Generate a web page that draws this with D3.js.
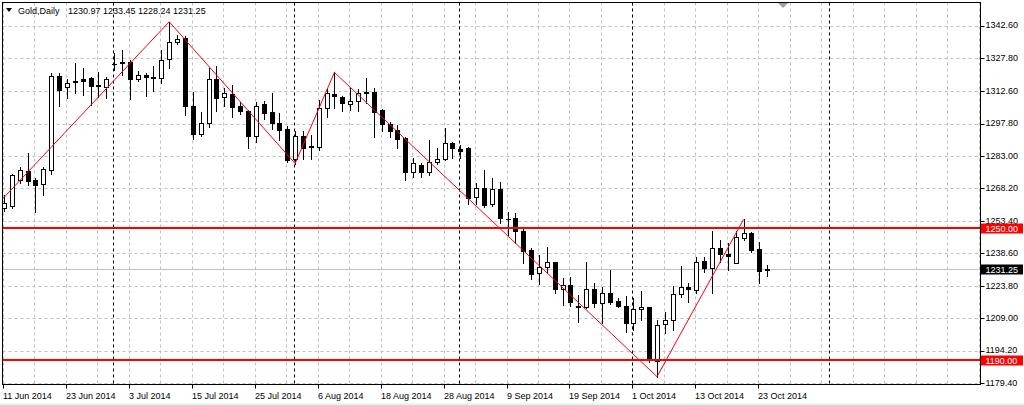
<!DOCTYPE html>
<html><head><meta charset="utf-8">
<script src="https://cdn.jsdelivr.net/npm/d3@7"></script>
<style>html,body{margin:0;padding:0;background:#fff;}svg{display:block;}</style>
</head><body>
<svg id="chart" width="1024" height="405"></svg>
<script>
// ---- DATA ----
const symbolTitle = "Gold,Daily";
const lastQuote = "1230.97 1233.45 1228.24 1231.25";
const opens = [1259.5,1260.2,1272.1,1276.3,1272.1,1270.1,1276.6,1319.5,1314.4,1317.3,1318.0,1318.5,1315.4,1314.7,1325.2,1325.4,1325.9,1318.0,1320.1,1319.2,1318.5,1327.2,1334.9,1337.0,1306.0,1292.9,1298.0,1318.2,1309.8,1311.3,1305.9,1303.7,1292.3,1306.6,1303.0,1298.0,1295.4,1281.5,1292.2,1287.6,1287.3,1305.1,1311.3,1310.1,1306.6,1308.1,1312.4,1312.4,1304.0,1297.5,1294.9,1291.1,1275.6,1278.9,1275.6,1280.4,1281.7,1288.8,1286.1,1286.5,1264.2,1268.3,1261.0,1267.8,1254.4,1254.6,1248.9,1240.1,1229.5,1232.2,1234.5,1222.2,1224.1,1214.7,1214.0,1222.2,1215.8,1220.3,1217.0,1214.7,1206.9,1213.0,1214.0,1189.6,1206.3,1208.2,1220.0,1223.1,1221.9,1235.1,1231.8,1241.2,1238.3,1234.3,1245.5,1247.7,1240.4,1230.97];
const highs = [1265.0,1274.8,1278.1,1284.4,1273.0,1278.0,1320.9,1320.8,1318.0,1325.3,1323.2,1319.1,1321.2,1319.2,1329.9,1331.4,1326.9,1321.8,1320.8,1324.2,1331.4,1344.3,1338.3,1337.8,1312.4,1303.0,1323.3,1324.1,1314.2,1315.4,1307.5,1304.0,1307.5,1308.3,1311.6,1302.8,1296.9,1294.6,1294.6,1292.6,1308.6,1313.6,1321.2,1310.6,1314.2,1313.5,1318.5,1313.9,1304.3,1298.7,1297.2,1291.6,1282.0,1279.7,1290.3,1286.5,1295.7,1289.6,1288.0,1287.0,1270.6,1276.6,1272.8,1271.3,1257.6,1256.9,1249.6,1240.9,1237.8,1241.3,1234.8,1227.2,1227.9,1219.6,1234.8,1224.9,1223.4,1231.0,1218.1,1219.1,1218.1,1221.4,1214.2,1208.2,1211.9,1223.7,1232.8,1224.9,1236.8,1237.1,1248.9,1244.7,1243.2,1248.9,1254.1,1248.5,1243.9,1233.45];
const lows = [1258.0,1259.3,1270.6,1270.0,1257.6,1265.2,1274.7,1306.0,1309.4,1311.8,1310.9,1306.3,1310.1,1309.6,1322.3,1320.0,1308.9,1317.4,1310.4,1312.7,1316.5,1323.3,1334.0,1301.7,1290.8,1292.3,1296.4,1303.6,1306.0,1300.9,1302.2,1286.5,1289.6,1299.9,1295.2,1290.3,1280.2,1279.6,1281.7,1281.7,1285.8,1300.9,1304.8,1303.6,1304.0,1303.6,1307.1,1291.6,1294.4,1291.8,1286.8,1272.1,1273.3,1273.3,1274.4,1279.2,1281.2,1282.2,1282.0,1261.1,1261.1,1259.9,1260.3,1252.3,1247.0,1243.2,1234.0,1226.7,1224.6,1230.2,1220.3,1215.0,1214.7,1207.4,1213.5,1214.2,1206.7,1215.3,1214.2,1202.8,1203.6,1208.2,1189.1,1182.3,1202.4,1203.6,1218.8,1216.5,1220.3,1230.2,1220.6,1234.8,1231.0,1234.0,1244.7,1239.3,1225.2,1228.24];
const closes = [1261.5,1274.4,1276.6,1271.8,1269.8,1277.0,1319.5,1313.2,1316.2,1316.6,1317.3,1315.1,1314.8,1318.2,1324.8,1325.8,1318.0,1319.9,1319.1,1318.6,1326.9,1334.9,1336.4,1306.0,1292.9,1298.0,1318.2,1309.6,1311.6,1305.5,1303.7,1292.3,1306.0,1302.8,1298.0,1294.9,1281.2,1292.2,1286.5,1287.0,1305.1,1311.6,1310.6,1307.4,1308.3,1311.9,1311.6,1303.2,1297.5,1294.6,1290.8,1275.9,1280.0,1275.9,1280.4,1281.7,1288.8,1286.5,1285.4,1264.0,1268.3,1260.7,1267.8,1254.6,1254.2,1248.9,1239.8,1229.2,1232.2,1234.8,1222.2,1224.1,1216.5,1214.1,1222.3,1215.8,1220.3,1216.2,1214.6,1206.9,1213.0,1213.9,1189.9,1205.9,1208.2,1220.0,1223.1,1222.3,1234.8,1231.8,1241.2,1238.1,1237.5,1245.9,1247.7,1240.1,1230.7,1231.25];

const zigzagIdx = [-2, 21, 37, 42, 83, 94];
const zigzagVal = [1256.5, 1344.3, 1279.6, 1321.2, 1182.3, 1254.1];

const levelLines = [1250.00, 1190.00];
const bidPrice = 1231.25;

const yTicks = [1179.40,1194.20,1209.00,1223.80,1238.60,1253.40,1268.20,1283.00,1297.80,1312.60,1327.80,1342.60];
const dateIdx = [0,8,16,24,32,40,48,56,64,72,80,88,96];
const dateLabels = ["11 Jun 2014","23 Jun 2014","3 Jul 2014","15 Jul 2014","25 Jul 2014","6 Aug 2014","18 Aug 2014","28 Aug 2014","9 Sep 2014","19 Sep 2014","1 Oct 2014","13 Oct 2014","23 Oct 2014"];
const separatorIdx = [14, 37, 58, 80, 105];

// ---- LAYOUT ----
const svg = d3.select("#chart");
const L = 2.5, T = 2.5, R = 980.5, B = 384.5;
const font = "'Liberation Sans', Arial, sans-serif";

const x = d3.scaleLinear().domain([0, 96]).range([4, 759.3]);
const y = d3.scaleLinear().domain([1179.4, 1342.6]).range([383, 25.5]);
const snap = v => Math.round(v) + 0.5;

svg.append("rect").attr("x",0).attr("y",0).attr("width",1024).attr("height",405).attr("fill","#fff");
svg.append("rect").attr("x",0).attr("y",403).attr("width",1024).attr("height",2).attr("fill","#f0f0f0");

svg.append("defs").append("clipPath").attr("id","clip")
  .append("rect").attr("x",L).attr("y",T).attr("width",R-L).attr("height",B-T);

const plot = svg.append("g").attr("clip-path","url(#clip)");

// grid horizontal
plot.selectAll("line.hg").data(yTicks).join("line")
  .attr("x1",L).attr("x2",R).attr("y1",d=>snap(y(d))).attr("y2",d=>snap(y(d)))
  .attr("stroke","#c0c0c0").attr("stroke-dasharray","3,3");
// grid vertical (every 4 bars)
const vgrid = d3.range(0, 128, 4);
plot.selectAll("line.vg").data(vgrid).join("line")
  .attr("x1",d=>snap(x(d))-1).attr("x2",d=>snap(x(d))-1).attr("y1",T).attr("y2",B)
  .attr("stroke","#c0c0c0").attr("stroke-dasharray","3,3");
// period separators
plot.selectAll("line.sep").data(separatorIdx).join("line")
  .attr("x1",d=>snap(x(d))-1).attr("x2",d=>snap(x(d))-1).attr("y1",T).attr("y2",B)
  .attr("stroke","#000").attr("stroke-dasharray","3,3");
// bid line
plot.append("line").attr("x1",L).attr("x2",R)
  .attr("y1",snap(y(bidPrice))).attr("y2",snap(y(bidPrice)))
  .attr("stroke","#c0c0c0");

// candles
const bars = opens.map((o,i)=>({i,o,h:highs[i],l:lows[i],c:closes[i]}));
const cg = plot.append("g");
bars.forEach(d=>{
  const cx = Math.round(x(d.i));
  cg.append("line").attr("x1",cx+0.5).attr("x2",cx+0.5)
    .attr("y1",Math.round(y(d.h))).attr("y2",Math.round(y(d.l))+1)
    .attr("stroke","#000");
  const top = Math.round(y(Math.max(d.o,d.c)));
  const bot = Math.round(y(Math.min(d.o,d.c)));
  if (bot - top < 1) {
    cg.append("line").attr("x1",cx-2).attr("x2",cx+3)
      .attr("y1",top+0.5).attr("y2",top+0.5).attr("stroke","#000");
  } else {
    cg.append("rect").attr("x",cx-2+0.5).attr("y",top+0.5)
      .attr("width",4).attr("height",bot-top)
      .attr("fill", d.c >= d.o ? "#fff" : "#000").attr("stroke","#000");
  }
});

// zigzag
const zz = zigzagIdx.map((k,j)=>[x(k), y(zigzagVal[j])]);
plot.append("path").attr("d", d3.line()(zz)).attr("fill","none")
  .attr("stroke","#ff0000").attr("stroke-width",1);

// level lines
plot.selectAll("line.lvl").data(levelLines).join("line")
  .attr("x1",L).attr("x2",R).attr("y1",d=>Math.round(y(d))).attr("y2",d=>Math.round(y(d)))
  .attr("stroke","#ff0000").attr("stroke-width",2);

// frame
svg.append("rect").attr("x",L).attr("y",T).attr("width",R-L).attr("height",B-T)
  .attr("fill","none").attr("stroke","#000");

// y axis ticks and labels
const ya = svg.append("g");
ya.selectAll("line").data(yTicks).join("line")
  .attr("x1",R).attr("x2",R+4).attr("y1",d=>snap(y(d))).attr("y2",d=>snap(y(d)))
  .attr("stroke","#000");
ya.selectAll("text").data(yTicks).join("text")
  .attr("x",985.5).attr("y",d=>y(d)+2.8)
  .attr("font-family",font).attr("font-size","9px").attr("fill","#000")
  .text(d=>d.toFixed(2));

// price boxes
function priceBox(v, bg){
  const cy = Math.round(y(v));
  svg.append("rect").attr("x",981).attr("y",cy-4.5).attr("width",42).attr("height",10).attr("fill",bg);
  svg.append("text").attr("x",985.5).attr("y",cy+3.5)
    .attr("font-family",font).attr("font-size","9px").attr("fill","#fff").text(v.toFixed(2));
}
levelLines.forEach(v=>priceBox(v,"#ff0000"));
priceBox(bidPrice,"#000");

// x axis ticks and labels
const xa = svg.append("g");
xa.selectAll("line").data(dateIdx).join("line")
  .attr("x1",d=>snap(x(d))-1).attr("x2",d=>snap(x(d))-1).attr("y1",B).attr("y2",B+4)
  .attr("stroke","#000");
xa.selectAll("text").data(dateIdx).join("text")
  .attr("x",d=>Math.round(x(d))-1).attr("y",398.5)
  .attr("font-family",font).attr("font-size","9px").attr("fill","#000")
  .text((d,j)=>dateLabels[j]);

// shift marker
svg.append("path").attr("d","M778,3 L788,3 L783,8 Z").attr("fill","#a0a0a0");

// title
svg.append("path").attr("d","M6,8 L12,8 L9,12 Z").attr("fill","#000");
svg.append("text").attr("x",18).attr("y",13.5).attr("font-family",font)
  .attr("font-size","9px").attr("fill","#000").text(symbolTitle);
svg.append("text").attr("x",68).attr("y",13.5).attr("font-family",font)
  .attr("font-size","9px").attr("fill","#000").text(lastQuote);
</script>
</body></html>
